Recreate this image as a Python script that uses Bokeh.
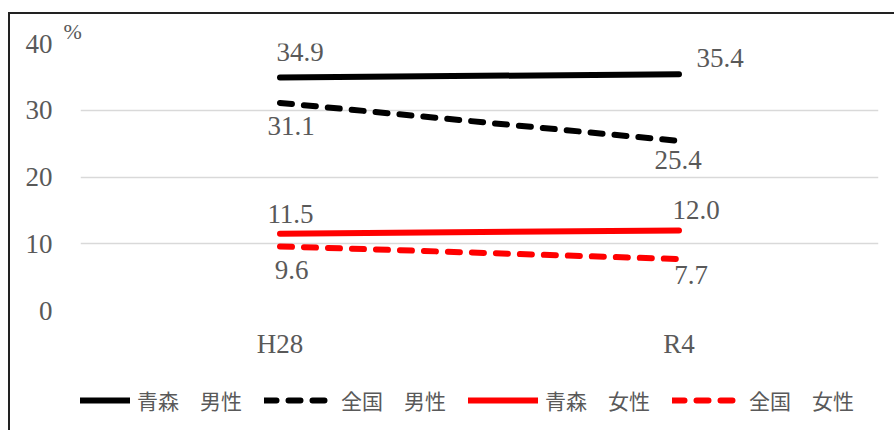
from bokeh.plotting import figure
from bokeh.layouts import column
from bokeh.models import FactorRange, Range1d, FixedTicker, Legend, LegendItem, ColumnDataSource
from bokeh.core.properties import value
from bokeh.embed import file_html
from bokeh.resources import INLINE

# ---- data ----
categories = ["H28", "R4"]
aomori_male = [34.9, 35.4]
national_male = [31.1, 25.4]
aomori_female = [11.5, 12.0]
national_female = [9.6, 7.7]
series_names = ["青森　男性", "全国　男性", "青森　女性", "全国　女性"]
y_ticks = [0, 10, 20, 30, 40]
unit_label = "%"

# ---- style ----
SERIF = "Liberation Serif"
CJK = "Noto Sans CJK JP"
GRAY = "#595959"
series_values = [aomori_male, national_male, aomori_female, national_female]
series_colors = ["#000000", "#000000", "#FF0000", "#FF0000"]
series_dash = ["solid", "12 12", "solid", "12 12"]
# label offsets in screen px (dx, dy; dy positive = downward)
label_offsets = [
    [(20, -26), (41, -16)],
    [(11, 23), (-1, 19)],
    [(10.5, -19.5), (17, -20)],
    [(11.5, 24), (12, 16)],
]

p = figure(width=884, height=356, x_range=FactorRange(factors=categories),
           y_range=Range1d(0, 40), output_backend="svg", toolbar_location=None,
           min_border_left=70, min_border_right=16, min_border_top=29, min_border_bottom=60,
           title=unit_label)
p.outline_line_color = None
p.background_fill_color = "white"
p.border_fill_color = "white"

p.title.text_font = SERIF
p.title.text_font_size = "22px"
p.title.text_font_style = "normal"
p.title.text_color = GRAY
p.title.align = "left"
p.title.offset = -17
p.title.standoff = 0

p.xgrid.grid_line_color = None
p.ygrid.grid_line_color = "#D9D9D9"
p.ygrid.grid_line_width = 1.5
p.yaxis.ticker = FixedTicker(ticks=y_ticks)

for ax in (p.xaxis[0], p.yaxis[0]):
    ax.axis_line_color = None
    ax.major_tick_line_color = None
    ax.minor_tick_line_color = None
    ax.major_label_text_font = SERIF
    ax.major_label_text_font_size = "27px"
    ax.major_label_text_color = GRAY
p.yaxis.major_label_standoff = 22
p.xaxis.major_label_standoff = 12

# legend strip (second figure holding only the legend)
q = figure(width=884, height=60, x_range=FactorRange(factors=categories),
           y_range=Range1d(0, 40), output_backend="svg", toolbar_location=None,
           x_axis_type=None, y_axis_type=None, min_border=0)
q.outline_line_color = None
q.xgrid.grid_line_color = None
q.ygrid.grid_line_color = None

items = []
for name, vals, col, dash, offs in zip(series_names, series_values, series_colors, series_dash, label_offsets):
    p.line(x=categories, y=vals, line_color=col, line_width=6, line_dash=dash, line_cap="round")
    r2 = q.line(x=categories, y=vals, line_color=col, line_width=6, line_dash=dash,
                line_cap="round", visible=False)
    items.append(LegendItem(label=name, renderers=[r2]))
    src = ColumnDataSource(dict(x=categories, y=vals, t=[f"{v:.1f}" for v in vals],
                                dx=[o[0] for o in offs], dy=[o[1] for o in offs]))
    p.text(x="x", y="y", text="t", source=src, x_offset="dx", y_offset="dy",
           text_font=value(SERIF), text_font_size="27px", text_color=GRAY,
           text_align="center", text_baseline="alphabetic")

legend = Legend(items=items, orientation="horizontal", location=(-20, 15),
                glyph_width=70, glyph_height=22, label_standoff=7, spacing=22,
                label_text_font=CJK, label_text_font_size="21px", label_text_color=GRAY,
                border_line_color=None, background_fill_alpha=0, padding=0, margin=0)
q.add_layout(legend)

layout = column(p, q, spacing=0, margin=(12, 0, 0, 8),
                styles={"border-top": "2px solid #222222", "border-left": "2px solid #222222"})

open("out.html", "w").write(file_html(layout, INLINE))
